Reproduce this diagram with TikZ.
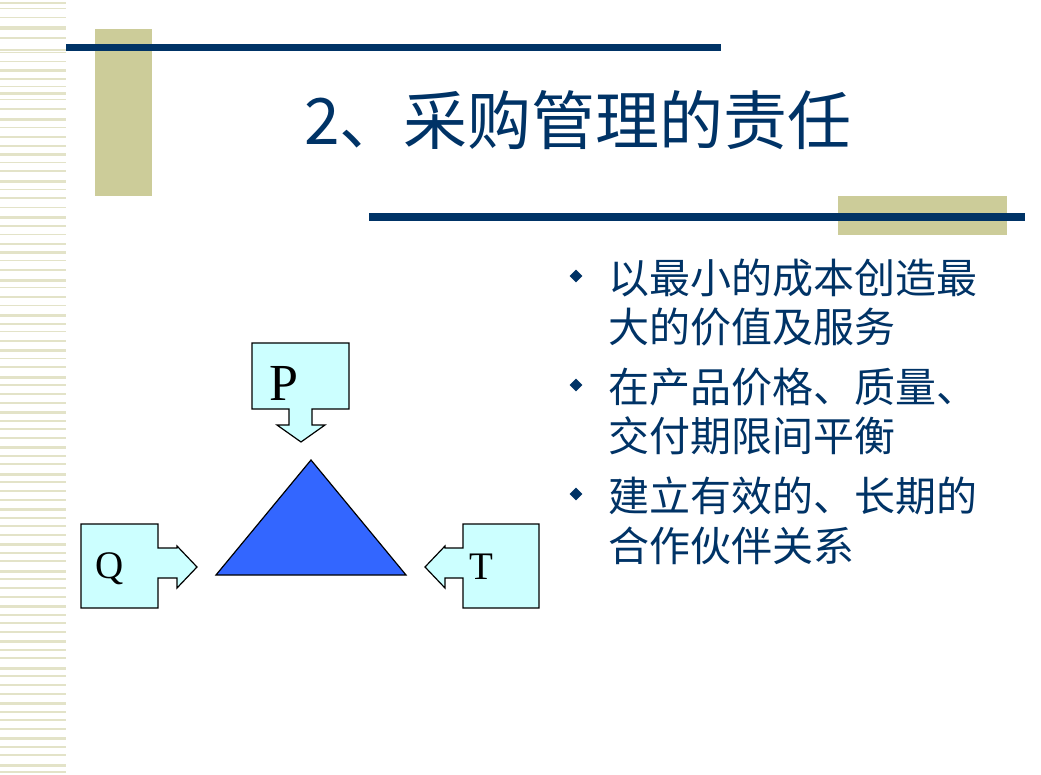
\documentclass[tikz,border=0pt]{standalone}
\usepackage{fontspec}
\usetikzlibrary{shapes.geometric}
\setmainfont{Liberation Serif}
\newfontfamily\cjk{Noto Sans CJK SC}
\definecolor{navy}{HTML}{003366}
\definecolor{khaki}{HTML}{CCCC99}
\definecolor{stripe}{HTML}{E3E3C8}
\definecolor{cyanfill}{HTML}{CCFFFF}
\definecolor{triblue}{HTML}{3366FF}
\begin{document}
\begin{tikzpicture}[x=1pt,y=-1pt,
  callout/.style={draw=black,line width=1.2pt,fill=cyanfill,line join=miter},
  bul/.style={anchor=west,font=\cjk\fontsize{41}{45}\selectfont,text=navy,inner sep=0pt},
  dia/.style={fill=navy,diamond,minimum size=13pt,inner sep=0pt}]
\useasboundingbox (0,0) rectangle (1041,775);
\fill[white] (0,0) rectangle (1041,775);
% stripes
\foreach \y/\h in {2/2,8/1.5,17/1.5,26/4,37/2,49/2,52/1.5,61/1.5,69/3,78/2,86/1.5,92/3,99/1.5,108/2,118/3,127/1.5,136/2,145/2,153/3,162/1.5,170/2,180/3,189/1.5,197/2,207/1.5,216/3,225/2,234/1.5,243/2,251/3,260/1.5,269/2,279/3,287/1.5,296/2,305/1.5,314/3,323/2,331/1.5,340/2,349/3,358/1.5,366/2,376/3,384/1.5,393/2,402/1.5,411/3,420/2,428/1.5,437/2,446/3,455/1.5,463/2,473/3,481/1.5,490/2,499/1.5,508/3,517/2,525/1.5,534/2,543/3,552/1.5,560/2,570/3,578/1.5,587/2,596/1.5,605/3,614/2,622/1.5,631/2,640/3,649/1.5,657/2,667/3,675/1.5,684/2,693/1.5,702/3,711/2,719/1.5,728/2,737/3,746/1.5,754/2,764/3,771/1.5}
  \fill[stripe] (0,\y) rectangle (66,\y+\h);
% decorations
\fill[khaki] (95,29) rectangle (152,196);
\fill[navy] (66,44) rectangle (721,51);
\fill[khaki] (838,196) rectangle (1007,235);
\fill[navy] (369,213) rectangle (1025,221);
\node[font=\cjk\fontsize{64}{68}\selectfont,text=navy] (title) at (578,120) {2、采购管理的责任};
% bullets
\node[dia] (d1) at (576,276) {};
\node[bul] (b1a) at (608,278) {以最小的成本创造最};
\node[bul] (b1b) at (608,327) {大的价值及服务};
\node[dia] (d2) at (576,385) {};
\node[bul] (b2a) at (608,387) {在产品价格、质量、};
\node[bul] (b2b) at (608,436) {交付期限间平衡};
\node[dia] (d3) at (576,494) {};
\node[bul] (b3a) at (608,496) {建立有效的、长期的};
\node[bul] (b3b) at (608,546) {合作伙伴关系};
% triangle
\draw[fill=triblue,line width=1.2pt,line join=miter] (216,575) -- (311,460) -- (406,575) -- cycle;
% P callout
\draw[callout] (252,343) -- (349,343) -- (349,409) -- (312,409) -- (312,425) -- (325,425) -- (301,442) -- (277,425) -- (289,425) -- (289,409) -- (252,409) -- cycle;
\node[font=\fontsize{52}{52}\selectfont] (P) at (284,383) {P};
% Q callout
\draw[callout] (81,524) -- (158,524) -- (158,548) -- (177,548) -- (177,546) -- (197,567) -- (177,588) -- (177,578) -- (158,578) -- (158,608) -- (81,608) -- cycle;
\node[font=\fontsize{39}{39}\selectfont] (Q) at (110,569) {Q};
% T callout
\draw[callout] (539,524) -- (463,524) -- (463,548) -- (445,548) -- (445,546) -- (425,567) -- (445,588) -- (445,578) -- (463,578) -- (463,608) -- (539,608) -- cycle;
\node[font=\fontsize{39}{39}\selectfont] (T) at (481,567) {T};
\end{tikzpicture}
\end{document}
